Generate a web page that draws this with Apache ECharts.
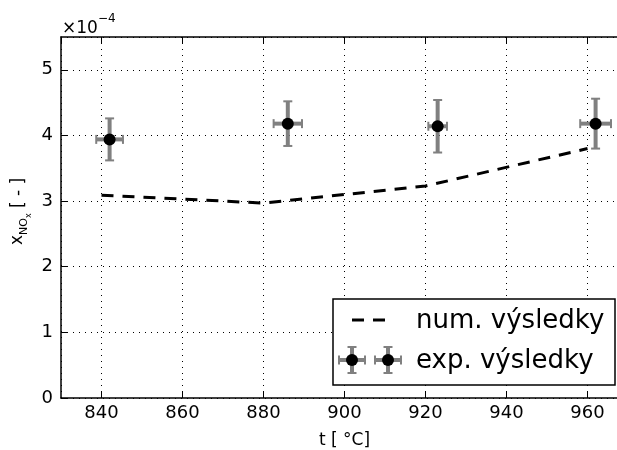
<!DOCTYPE html>
<html><head><meta charset="utf-8">
<script src="https://cdn.jsdelivr.net/npm/echarts@6/dist/echarts.min.js"></script>
<style>html,body{margin:0;padding:0;background:#fff}#c{width:617px;height:450px}</style>
</head><body><div id="c"></div>
<script>
// numerical results (x_NOx in units of 1e-4)
const numT = [840, 880, 920, 960];
const numX = [3.09, 2.97, 3.23, 3.80];
// experimental results with error bars
const expT = [842, 886, 923, 962];
const expX = [3.94, 4.18, 4.14, 4.18];
const expTErr = [3.3, 3.5, 2.3, 3.8];
const expXErr = [0.32, 0.34, 0.40, 0.38];
const legendLabels = ['num. výsledky', 'exp. výsledky'];
const xTitle = 't [ °C]';
const yTitleParts = ['x', 'NO', 'x', '[ - ]'];

const FONT = 'DejaVu Sans';
const GREY = '#808080';
const ROT = Math.PI / 2;

const chart = echarts.init(document.getElementById('c'), null, {renderer: 'canvas'});

function errorBarGroup(cx, cy, x1, x2, y1, y2, cap) {
  return [
    {type: 'line', shape: {x1: cx, y1: y1, x2: cx, y2: y2}, style: {stroke: GREY, lineWidth: 4}},
    {type: 'line', shape: {x1: cx - cap, y1: y1, x2: cx + cap, y2: y1}, style: {stroke: GREY, lineWidth: 2}},
    {type: 'line', shape: {x1: cx - cap, y1: y2, x2: cx + cap, y2: y2}, style: {stroke: GREY, lineWidth: 2}},
    {type: 'line', shape: {x1: x1, y1: cy, x2: x2, y2: cy}, style: {stroke: GREY, lineWidth: 4}},
    {type: 'line', shape: {x1: x1, y1: cy - cap, x2: x1, y2: cy + cap}, style: {stroke: GREY, lineWidth: 2}},
    {type: 'line', shape: {x1: x2, y1: cy - cap, x2: x2, y2: cy + cap}, style: {stroke: GREY, lineWidth: 2}},
    {type: 'circle', shape: {cx: cx, cy: cy, r: 6}, style: {fill: '#000'}}
  ];
}

function rotText(text, x, y, fs) {
  return {type: 'text', x: x, y: y, rotation: ROT, z: 10,
    style: {text: text, fontFamily: FONT, fontSize: fs, fill: '#000', align: 'left', verticalAlign: 'middle'}};
}

const axisLineStyle = {color: '#000', width: 1.5};
const gridLineStyle = {color: '#000', width: 1, type: [1, 5]};

const option = {
  animation: false,
  backgroundColor: '#fff',
  grid: {left: 61, right: -11, top: 37, bottom: 52, containLabel: false, outerBoundsMode: 'none'},
  xAxis: [{
    type: 'value', min: 830, max: 970, splitNumber: 7,
    name: xTitle, nameLocation: 'middle', nameGap: 34,
    nameTextStyle: {fontFamily: FONT, fontSize: 17, color: '#000'},
    axisLine: {show: true, onZero: false, lineStyle: axisLineStyle},
    axisTick: {show: true, inside: true, length: 6, lineStyle: {color: '#000', width: 1}},
    axisLabel: {fontFamily: FONT, fontSize: 18, color: '#000', margin: 6, showMinLabel: false, showMaxLabel: false},
    splitLine: {show: true, lineStyle: gridLineStyle}
  }, {
    type: 'value', position: 'top', min: 830, max: 970, splitNumber: 7,
    axisLine: {show: true, onZero: false, lineStyle: axisLineStyle},
    axisTick: {show: true, inside: true, length: 6, lineStyle: {color: '#000', width: 1}},
    axisLabel: {show: false},
    splitLine: {show: false}
  }],
  yAxis: [{
    type: 'value', min: 0, max: 5.5, interval: 1,
    axisLine: {show: true, onZero: false, lineStyle: axisLineStyle},
    axisTick: {show: true, inside: true, length: 6, lineStyle: {color: '#000', width: 1}},
    axisLabel: {fontFamily: FONT, fontSize: 18, color: '#000', margin: 8, showMaxLabel: false},
    splitLine: {show: true, lineStyle: gridLineStyle}
  }],
  series: [{
    name: legendLabels[0],
    type: 'line',
    data: numT.map((t, i) => [t, numX[i]]),
    symbol: 'none',
    lineStyle: {color: '#000', width: 3, type: [12, 9]},
    z: 3
  }, {
    name: legendLabels[1],
    type: 'custom',
    data: expT.map((t, i) => [t, expX[i], expTErr[i], expXErr[i]]),
    encode: {x: 0, y: 1},
    renderItem: function (params, api) {
      const t = api.value(0), x = api.value(1), dt = api.value(2), dx = api.value(3);
      const c = api.coord([t, x]);
      const top = api.coord([t, x + dx]);
      const bot = api.coord([t, x - dx]);
      const l = api.coord([t - dt, x]);
      const r = api.coord([t + dt, x]);
      return {type: 'group', children: errorBarGroup(c[0], c[1], l[0], r[0], top[1], bot[1], 4.5)};
    },
    z: 4
  }],
  graphic: [
    {
      type: 'text', left: 62, top: 13, z: 10,
      style: {
        text: '{a|×10}{b|−4}', fontFamily: FONT,
        rich: {
          a: {fontFamily: FONT, fontSize: 17, color: '#000', lineHeight: 24, verticalAlign: 'bottom'},
          b: {fontFamily: FONT, fontSize: 12, color: '#000', lineHeight: 14, verticalAlign: 'top'}
        }
      }
    },
    rotText(yTitleParts[0], 18, 245, 17),
    rotText(yTitleParts[1], 24.5, 235, 11),
    rotText(yTitleParts[2], 28.7, 218, 8),
    rotText(yTitleParts[3], 18.5, 208, 17),
    {
      type: 'group', z: 100,
      children: [
        {type: 'rect', shape: {x: 333, y: 299, width: 282, height: 86}, style: {fill: '#fff', stroke: '#000', lineWidth: 1.5}, z: 100},
        {type: 'line', shape: {x1: 352, y1: 320, x2: 364, y2: 320}, style: {stroke: '#000', lineWidth: 3}, z: 101},
        {type: 'line', shape: {x1: 373, y1: 320, x2: 385, y2: 320}, style: {stroke: '#000', lineWidth: 3}, z: 101},
        {type: 'group', z: 101, children: errorBarGroup(352, 360, 339, 365, 347, 373, 4.5).map(e => Object.assign(e, {z: 101}))},
        {type: 'group', z: 101, children: errorBarGroup(388, 360, 375, 401, 347, 373, 4.5).map(e => Object.assign(e, {z: 101}))},
        {type: 'text', x: 416, y: 321, z: 101, style: {text: legendLabels[0], fontFamily: FONT, fontSize: 26, fill: '#000', verticalAlign: 'middle', align: 'left'}},
        {type: 'text', x: 416, y: 361, z: 101, style: {text: legendLabels[1], fontFamily: FONT, fontSize: 26, fill: '#000', verticalAlign: 'middle', align: 'left'}}
      ]
    }
  ]
};
chart.setOption(option);
</script>
</body></html>
